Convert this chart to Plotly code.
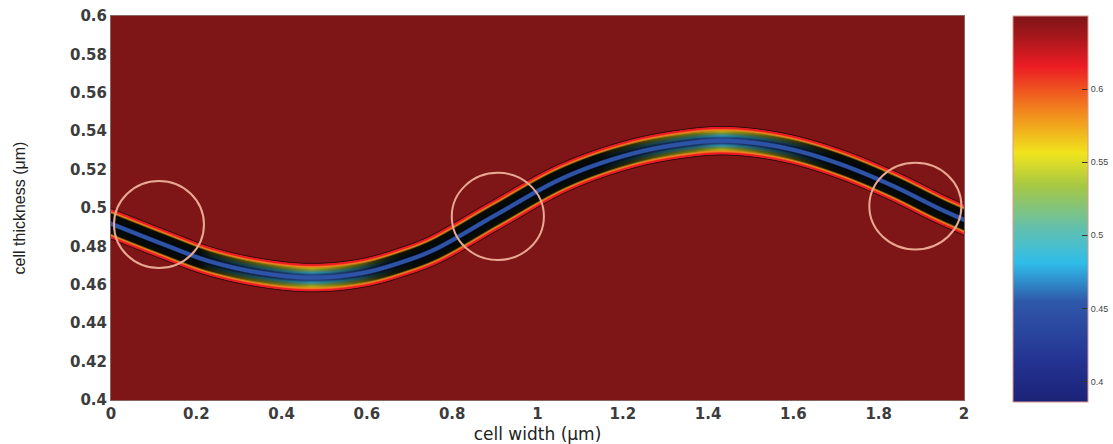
import numpy as np
import plotly.graph_objects as go

# ---- data -------------------------------------------------------------
# centre line of the interface band (cell width in um -> cell thickness in um)
center_x = [0.0, 0.12, 0.23, 0.35, 0.47, 0.59, 0.70, 0.77, 0.90, 1.06,
            1.22, 1.37, 1.47, 1.59, 1.71, 1.83, 1.94, 2.0]
center_y = [0.492, 0.4815, 0.4725, 0.4665, 0.464, 0.4665, 0.4735, 0.4800, 0.4965, 0.516,
            0.5285, 0.5345, 0.535, 0.531, 0.523, 0.512, 0.500, 0.494]

# field value across the band, versus distance (px) from the centre line
band_dist = [0.0, 2.5, 4.0, 5.5, 7.0, 8.5, 10.0, 11.3, 12.2, 13.4, 14.0]
band_value = [0.448, 0.452, 0.472, 0.50, 0.525, 0.55, 0.575, 0.595, 0.615, 0.618, 0.65]

# dense-mesh edge shading across the band (0 = none, 1 = full black)
edge_dist = [0.0, 1.5, 2.8, 9.0, 10.8, 13.6, 14.3, 15.2]
edge_level = [0.0, 0.0, 1.0, 1.0, 0.0, 0.0, 0.55, 0.0]

background_value = 0.65
z_min, z_max = 0.386, 0.65

# highlighted regions (centre x, centre y, radius x, radius y) in axis units
circle_x = [0.1125, 0.907, 1.886]
circle_y = [0.4914, 0.4956, 0.501]
circle_rx = [0.1055, 0.108, 0.108]
circle_ry = [0.0227, 0.0227, 0.0226]

x_ticks = [0, 0.2, 0.4, 0.6, 0.8, 1, 1.2, 1.4, 1.6, 1.8, 2]
y_ticks = [0.4, 0.42, 0.44, 0.46, 0.48, 0.5, 0.52, 0.54, 0.56, 0.58, 0.6]
cbar_ticks = [0.4, 0.45, 0.5, 0.55, 0.6]

# ---- layout geometry ---------------------------------------------------
W, H = 1113, 444
ML, MR, MT, MB = 111, 149, 16, 44
PW, PH = W - ML - MR, H - MT - MB
px_per_x = PW / 2.0
px_per_y = PH / 0.2
CB_LEFT, CB_THICK, CB_LEN, CB_BOTTOM = 1013, 75, 386, 402


def hermite(xk, yk, xq):
    xk = np.asarray(xk, float)
    yk = np.asarray(yk, float)
    m = np.empty_like(yk)
    m[1:-1] = (yk[2:] - yk[:-2]) / (xk[2:] - xk[:-2])
    m[0] = (yk[1] - yk[0]) / (xk[1] - xk[0])
    m[-1] = (yk[-1] - yk[-2]) / (xk[-1] - xk[-2])
    i = np.clip(np.searchsorted(xk, xq) - 1, 0, len(xk) - 2)
    h = xk[i + 1] - xk[i]
    t = (xq - xk[i]) / h
    h00 = 2 * t**3 - 3 * t**2 + 1
    h10 = t**3 - 2 * t**2 + t
    h01 = -2 * t**3 + 3 * t**2
    h11 = t**3 - t**2
    return h00 * yk[i] + h10 * h * m[i] + h01 * yk[i + 1] + h11 * h * m[i + 1]


# ---- field grid --------------------------------------------------------
xg = np.linspace(0, 2, PW + 1)
yg = np.linspace(0.4, 0.6, PH + 1)
cy = hermite(center_x, center_y, xg)
slope_px = np.gradient(cy, xg) * px_per_y / px_per_x
vert = np.abs(yg[:, None] - cy[None, :]) * px_per_y
dist = vert / np.sqrt(1 + slope_px[None, :] ** 2)

z = np.interp(dist, band_dist, band_value)
z = np.where(dist > band_dist[-1], background_value, z)
z = np.round(z, 4)

steep = np.clip(0.25 + 2.0 * np.abs(slope_px), 0, 0.95)
edge = np.interp(dist, edge_dist, edge_level)
inner = dist < 12
edge = np.where(inner, edge * steep[None, :], edge)
edge = np.round(edge, 3)

jet = [
    [0.0, "#1b2277"], [0.1, "#233290"], [0.26, "#2f58aa"], [0.36, "#2fbde9"],
    [0.45, "#62c0ae"], [0.56, "#a6c844"], [0.645, "#f0e41c"], [0.76, "#f2801e"],
    [0.87, "#ec1c24"], [0.95, "#a3171b"], [1.0, "#7e1517"],
]

fig = go.Figure()
fig.add_trace(go.Heatmap(
    x=xg, y=yg, z=z, zmin=z_min, zmax=z_max, colorscale=jet, zsmooth="best",
    hoverinfo="skip",
    colorbar=dict(
        x=(CB_LEFT - ML) / PW, xanchor="left", xpad=0,
        y=(MT + PH - (CB_BOTTOM - CB_LEN / 2)) / PH, yanchor="middle", ypad=0,
        lenmode="pixels", len=CB_LEN, thickness=CB_THICK,
        outlinecolor="#d99a8c", outlinewidth=1,
        tickvals=cbar_ticks, ticks="inside", ticklen=6, tickcolor="#333",
        tickfont=dict(family="Liberation Sans", size=9, color="#444"),
    ),
))
fig.add_trace(go.Heatmap(
    x=xg, y=yg, z=edge, zmin=0, zmax=1, zsmooth="best", showscale=False,
    colorscale=[[0, "rgba(0,0,0,0)"], [1, "rgba(0,0,0,1)"]],
    hoverinfo="skip",
))

shapes = []
for cx_, cy_, rx, ry in zip(circle_x, circle_y, circle_rx, circle_ry):
    shapes.append(dict(type="circle", xref="x", yref="y",
                       x0=cx_ - rx, x1=cx_ + rx, y0=cy_ - ry, y1=cy_ + ry,
                       line=dict(color="#e8a892", width=2)))

# tick marks on the left edge of the colour bar
for v in cbar_ticks:
    ypx = CB_BOTTOM - (v - z_min) / (z_max - z_min) * CB_LEN
    yp = (MT + PH - ypx) / PH
    shapes.append(dict(type="line", xref="paper", yref="paper",
                       x0=(CB_LEFT - ML) / PW, x1=(CB_LEFT + 6 - ML) / PW, y0=yp, y1=yp,
                       line=dict(color="#333", width=1)))

tick_font = dict(family="DejaVu Sans", size=15, color="#3c3c3c", weight="bold")
fig.update_layout(
    width=W, height=H,
    margin=dict(l=ML, r=MR, t=MT, b=MB, pad=0, autoexpand=False),
    paper_bgcolor="#ffffff", plot_bgcolor="#7e1517",
    shapes=shapes,
    xaxis=dict(range=[0, 2], tickvals=x_ticks, ticktext=[f"{t:g}" for t in x_ticks],
               showgrid=False, zeroline=False, ticks="", tickfont=tick_font,
               automargin=False,
               showline=True, linecolor="#8a6662", linewidth=1, mirror=True,
               title=dict(text="cell width (μm)", standoff=6,
                          font=dict(family="DejaVu Sans", size=17, color="#222"))),
    yaxis=dict(range=[0.4, 0.6], tickvals=y_ticks, ticktext=[f"{t:g}" for t in y_ticks],
               showgrid=False, zeroline=False, ticks="", tickfont=tick_font,
               automargin=False,
               showline=True, linecolor="#8a6662", linewidth=1, mirror=True,
               title=dict(text="cell thickness (μm)", standoff=40,
                          font=dict(family="Liberation Sans Narrow, Liberation Sans",
                                    size=16, color="#222"))),
)

fig.write_html("out.html")
